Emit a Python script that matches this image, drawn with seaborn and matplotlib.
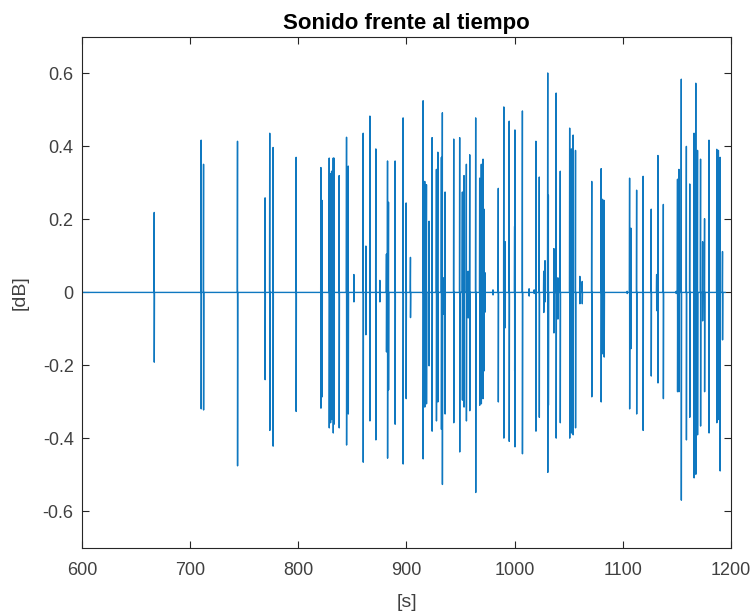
import numpy as np
import pandas as pd
import seaborn as sns
import matplotlib
matplotlib.use("Agg")
import matplotlib.pyplot as plt

# ==== Spikes: time [s], positive peak, negative peak [dB] ====
spike_t = [666.8, 710.2, 712.4, 743.8, 769.3, 773.6, 776.7, 798.0,
           820.9, 822.0, 828.6, 829.8, 830.8, 832.3, 833.0, 837.8, 844.6, 846.2,
           851.4, 860.0, 862.5, 866.2, 871.7, 875.4, 881.5, 882.5, 883.4,
           889.5, 896.9, 899.7, 903.7, 915.4, 916.9, 918.5, 920.9, 923.7,
           927.7, 929.0, 932.3, 933.2, 934.5, 935.7, 943.7, 949.2, 951.7,
           953.2, 955.4, 957.0, 958.5, 964.0, 967.7, 969.2, 970.8, 971.7,
           972.6, 980.0, 984.9, 990.0, 991.2, 995.0, 1000.3, 1000.0, 1007.2,
           1013.4, 1018.1, 1019.7, 1022.8, 1026.9, 1028.1, 1030.6, 1031.2,
           1036.3, 1038.4, 1040.0, 1042.2, 1050.9, 1052.5, 1054.1, 1056.3,
           1060.3, 1062.5, 1071.3, 1080.0, 1081.3, 1082.8, 1104.1, 1106.3,
           1107.5, 1112.8, 1118.8, 1126.3, 1131.3, 1132.5, 1137.5, 1149.4,
           1150.6, 1151.9, 1154.1, 1158.8, 1161.9, 1165.9, 1167.5, 1169.1,
           1171.9, 1173.8, 1175.6, 1179.7, 1186.9, 1188.4, 1190.0, 1192.2]
spike_top = [0.219, 0.417, 0.351, 0.414, 0.259, 0.436, 0.397, 0.370,
             0.342, 0.252, 0.368, 0.325, 0.332, 0.368, 0.368, 0.320, 0.425, 0.346,
             0.049, 0.436, 0.127, 0.483, 0.393, 0.033, 0.105, 0.360, 0.247,
             0.360, 0.478, 0.245, 0.096, 0.525, 0.304, 0.295, 0.195, 0.424,
             0.337, 0.384, 0.370, 0.492, 0.040, 0.275, 0.420, 0.424, 0.275,
             0.320, 0.351, 0.058, 0.377, 0.478, 0.313, 0.351, 0.365, 0.228,
             0.054, 0.007, 0.285, 0.508, 0.139, 0.469, 0.445, 0.181, 0.497,
             0.010, 0.007, 0.414, 0.316, 0.058, 0.087, 0.601, 0.266,
             0.120, 0.546, 0.040, 0.332, 0.450, 0.393, 0.431, 0.389,
             0.044, 0.030, 0.304, 0.339, 0.255, 0.252, 0.003, 0.313,
             0.176, 0.280, 0.318, 0.228, 0.049, 0.375, 0.241, 0.003,
             0.310, 0.337, 0.584, 0.400, 0.297, 0.436, 0.573, 0.389,
             0.365, 0.139, 0.202, 0.417, 0.392, 0.389, 0.370, 0.112]
spike_bot = [-0.191, -0.319, -0.322, -0.475, -0.239, -0.378, -0.421, -0.326,
             -0.317, -0.286, -0.371, -0.357, -0.348, -0.385, -0.361, -0.371, -0.418, -0.333,
             -0.026, -0.465, -0.116, -0.352, -0.404, -0.026, -0.163, -0.454, -0.267,
             -0.361, -0.470, -0.291, -0.069, -0.456, -0.314, -0.305, -0.201, -0.380,
             -0.352, -0.300, -0.375, -0.526, -0.060, -0.333, -0.357, -0.437, -0.295,
             -0.314, -0.352, -0.070, -0.324, -0.548, -0.309, -0.305, -0.291, -0.215,
             -0.054, -0.007, -0.300, -0.399, -0.097, -0.408, -0.423, -0.215, -0.442,
             -0.010, -0.003, -0.380, -0.342, -0.055, -0.026, -0.493, -0.309,
             -0.111, -0.399, -0.073, -0.357, -0.399, -0.385, -0.390, -0.371,
             -0.031, -0.031, -0.286, -0.300, -0.168, -0.177, -0.003, -0.319,
             -0.154, -0.333, -0.378, -0.229, -0.050, -0.248, -0.291, -0.003,
             -0.272, -0.272, -0.569, -0.404, -0.342, -0.508, -0.498, -0.390,
             -0.366, -0.078, -0.272, -0.385, -0.357, -0.348, -0.489, -0.130]

t_start, t_end = 600.0, 1195.0

# Build the waveform: silence, then each spike swings up and down through zero
order = np.argsort(spike_t)
times, values = [t_start], [0.0]
for i in order:
    t = spike_t[i]
    times += [t - 0.2, t, t + 0.05, t + 0.25]
    values += [0.0, spike_top[i], spike_bot[i], 0.0]
times.append(t_end)
values.append(0.0)
signal = pd.DataFrame({"t": times, "dB": values})

sns.set_theme(style="white")
plt.rcParams["font.family"] = ["Liberation Sans", "DejaVu Sans"]
plt.rcParams["xtick.direction"] = "in"
plt.rcParams["ytick.direction"] = "in"

fig = plt.figure(figsize=(7.52, 6.14), dpi=100)
ax = fig.add_axes([0.109, 0.1075, 0.863, 0.8325])
sns.lineplot(data=signal, x="t", y="dB", sort=False, estimator=None,
             color="#0f78c0", linewidth=1.0, ax=ax)

ax.set_xlim(600, 1200)
ax.set_ylim(-0.7, 0.7)
ax.set_xticks(np.arange(600, 1201, 100))
ax.set_yticks(np.round(np.arange(-0.6, 0.61, 0.2), 1))
ax.set_yticklabels(["-0.6", "-0.4", "-0.2", "0", "0.2", "0.4", "0.6"])
ax.tick_params(axis="both", which="both", length=5, width=0.8, color="#262626",
               labelsize=13, labelcolor="#404040", top=True, right=True,
               bottom=True, left=True)
ax.tick_params(axis="x", pad=10)
ax.tick_params(axis="y", pad=6)
for side in ax.spines.values():
    side.set_color("#262626")
    side.set_linewidth(0.8)

ax.set_title("Sonido frente al tiempo", fontsize=16, fontweight="bold", color="black", pad=6)
ax.set_xlabel("[s]", fontsize=14, color="#404040", labelpad=11)
ax.set_ylabel("[dB]", fontsize=14, color="#404040", labelpad=10)

fig.savefig("out.png", dpi=100)
plt.close(fig)
